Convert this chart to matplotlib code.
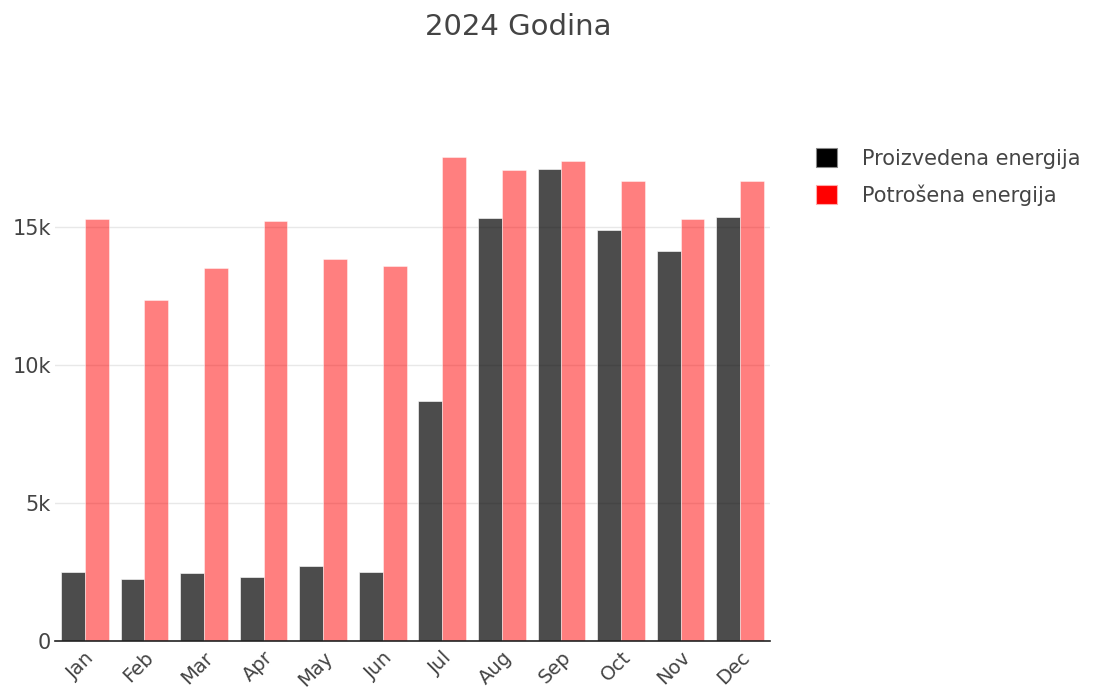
import numpy as np
import matplotlib
matplotlib.use("Agg")
import matplotlib.pyplot as plt
from matplotlib.patches import Patch

months = ['Jan', 'Feb', 'Mar', 'Apr', 'May', 'Jun', 'Jul', 'Aug', 'Sep', 'Oct', 'Nov', 'Dec']
proizvedena = [2500, 2250, 2460, 2320, 2720, 2500, 8700, 15330, 17100, 14890, 14130, 15360]
potrosena = [15290, 12360, 13510, 15220, 13840, 13590, 17540, 17070, 17390, 16670, 15290, 16670]

plt.rcParams['font.family'] = ['DejaVu Sans']
txt = '#444444'

fig = plt.figure(figsize=(11.14, 6.93), dpi=100)
ax = fig.add_axes([0.0494, 0.075, 0.6418, 0.733])

x = np.arange(len(months))
w = 0.4
ax.bar(x - w / 2, proizvedena, w, color='black', alpha=0.7, edgecolor='white', linewidth=0.6, zorder=3)
ax.bar(x + w / 2, potrosena, w, color='red', alpha=0.5, edgecolor='white', linewidth=0.6, zorder=3)

ax.set_xlim(-0.5, len(months) - 0.5)
ax.set_ylim(0, 18420)
ax.set_yticks([0, 5000, 10000, 15000])
ax.set_yticklabels(['0', '5k', '10k', '15k'])
ax.set_xticks(x)
ax.set_xticklabels(months, rotation=45, ha='right', rotation_mode='anchor')
ax.tick_params(axis='y', length=0, labelsize=15, colors=txt, pad=3)
ax.tick_params(axis='x', length=0, labelsize=14, colors=txt, pad=5)
ax.grid(axis='y', color='#e8e8e8', linewidth=1, zorder=0)
for s in ['top', 'right', 'left']:
    ax.spines[s].set_visible(False)
ax.spines['bottom'].set_color('#222222')
ax.spines['bottom'].set_linewidth(1.2)
ax.spines['bottom'].set_zorder(4)

fig.text(0.465, 1 - 27 / 693, '2024 Godina', ha='center', va='center', fontsize=21, color=txt)

handles = [Patch(facecolor='black', edgecolor='#888888', linewidth=0.8),
           Patch(facecolor='red', edgecolor='#ffaaaa', linewidth=0.8)]
fig.legend(handles, ['Proizvedena energija', 'Potrošena energija'],
           loc='upper left', bbox_to_anchor=(0.716, 0.813), frameon=False,
           fontsize=15, labelcolor=txt, handlelength=1.0, handleheight=1.0,
           handletextpad=1.2, labelspacing=0.75)

fig.savefig('out.png', dpi=100)
